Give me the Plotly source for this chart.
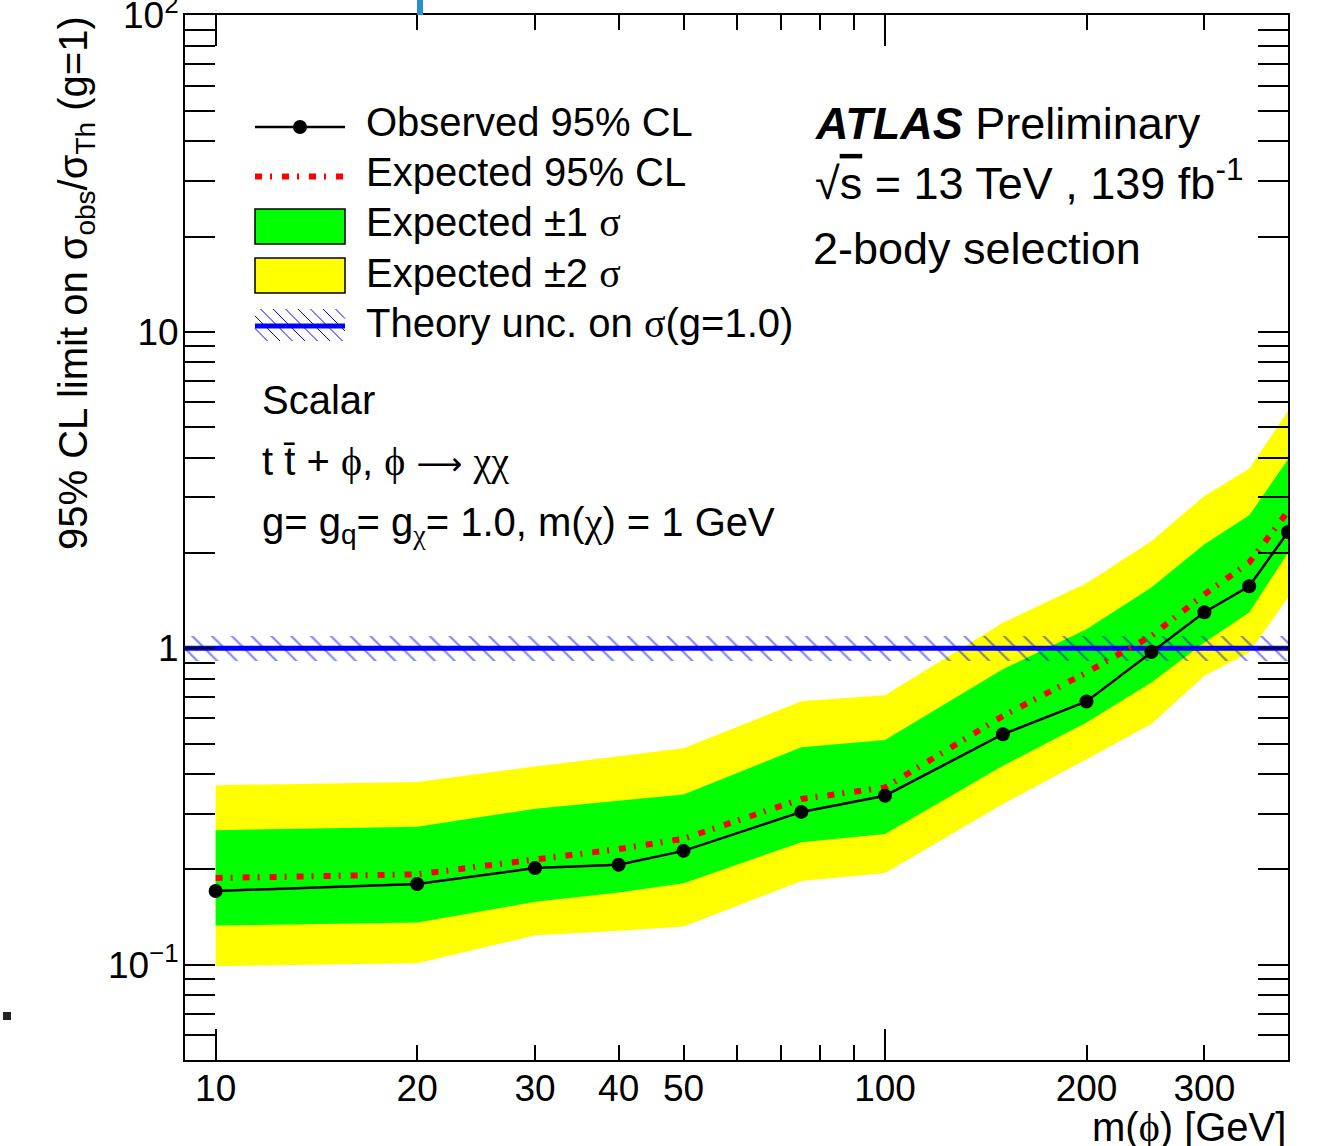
import numpy as np
import plotly.graph_objects as go

# ---------------- data ----------------
mass = [10, 20, 30, 40, 50, 75, 100, 150, 200, 250, 300, 350, 400]
observed = [0.171, 0.180, 0.202, 0.207, 0.229, 0.304, 0.342, 0.535, 0.679, 0.973, 1.30, 1.57, 2.33]
expected = [0.188, 0.193, 0.215, 0.232, 0.250, 0.334, 0.363, 0.611, 0.838, 1.094, 1.48, 1.865, 2.71]
exp_p1 = [0.266, 0.273, 0.311, 0.330, 0.345, 0.487, 0.513, 0.858, 1.148, 1.555, 2.13, 2.63, 3.95]
exp_m1 = [0.133, 0.136, 0.158, 0.169, 0.181, 0.244, 0.259, 0.425, 0.583, 0.779, 1.042, 1.296, 2.005]
exp_p2 = [0.369, 0.378, 0.423, 0.456, 0.483, 0.680, 0.711, 1.205, 1.604, 2.18, 3.03, 3.69, 5.61]
exp_m2 = [0.099, 0.101, 0.124, 0.128, 0.132, 0.184, 0.195, 0.322, 0.446, 0.576, 0.818, 0.969, 1.446]

theory_x = [9, 400]
theory_nominal = [1.0, 1.0]
theory_up = [1.094, 1.094]
theory_down = [0.912, 0.912]

x_tick_vals = [10, 20, 30, 40, 50, 100, 200, 300]
x_tick_text = ["10", "20", "30", "40", "50", "100", "200", "300"]
x_minor_vals = [60, 70, 80, 90, 400]
x_major_long = [10, 100]
y_tick_vals = [0.1, 1, 10, 100]
y_tick_text = ["10<sup>\u22121</sup>", "1", "10", "10<sup>2</sup>"]
y_minor_vals = [0.05, 0.06, 0.07, 0.08, 0.09] + [k / 10 for k in range(2, 10)] + list(range(2, 10)) + [k * 10 for k in range(2, 10)]

# ---------------- layout geometry ----------------
W, H = 1332, 1146
L, R, T, B = 185, 1288, 15, 1060
FONT = "Liberation Sans, Arial, Helvetica, sans-serif"


def px(xp):
    return (xp - L) / (R - L)


def py(yp):
    return (B - yp) / (B - T)


def ser(s):
    return f"<span style=\"font-family:'Liberation Serif'\">{s}</span>"


fig = go.Figure()

# yellow +-2 sigma band
fig.add_trace(go.Scatter(
    x=mass + mass[::-1], y=exp_p2 + exp_m2[::-1], fill="toself",
    fillcolor="#ffff00", line=dict(width=0), mode="lines",
    hoverinfo="skip", showlegend=False))
# green +-1 sigma band
fig.add_trace(go.Scatter(
    x=mass + mass[::-1], y=exp_p1 + exp_m1[::-1], fill="toself",
    fillcolor="#00ff00", line=dict(width=0), mode="lines",
    hoverinfo="skip", showlegend=False))
# theory uncertainty hatch
fig.add_trace(go.Scatter(
    x=theory_x + theory_x[::-1], y=theory_up + theory_down[::-1], fill="toself",
    fillcolor="rgba(0,0,0,0)", line=dict(width=0), mode="lines",
    fillpattern=dict(shape="\\", fgcolor="#0000ff", bgcolor="rgba(0,0,0,0)",
                     size=14, solidity=0.14),
    hoverinfo="skip", showlegend=False))
# theory nominal
fig.add_trace(go.Scatter(
    x=theory_x, y=theory_nominal, mode="lines",
    line=dict(color="#0000ff", width=5), showlegend=False))
# expected
fig.add_trace(go.Scatter(
    x=mass, y=expected, mode="lines",
    line=dict(color="#ff0000", width=6, dash="7px,8px,2px,10px"),
    showlegend=False))
# observed
fig.add_trace(go.Scatter(
    x=mass, y=observed, mode="lines+markers",
    line=dict(color="black", width=2.5),
    marker=dict(color="black", size=14), showlegend=False))
# dummy trace for overlay axis with long ticks
fig.add_trace(go.Scatter(x=[], y=[], xaxis="x2", yaxis="y", showlegend=False))

xrange = [np.log10(9), np.log10(400)]
yrange = [np.log10(0.05), 2.001]

fig.update_layout(
    width=W, height=H,
    margin=dict(l=L, r=W - R, t=T, b=H - B, pad=0, autoexpand=False),
    paper_bgcolor="white", plot_bgcolor="white",
    font=dict(family=FONT, color="black"),
    xaxis=dict(
        type="log", range=xrange, showgrid=False, zeroline=False,
        showline=True, linecolor="black", linewidth=2, mirror="allticks",
        ticks="inside", ticklen=15, tickwidth=1.5, tickcolor="black",
        tickvals=x_tick_vals, ticktext=x_tick_text,
        tickfont=dict(size=37, family=FONT), ticklabelstandoff=-5,
        ticklabeloverflow="allow", automargin=False,
        minor=dict(tickvals=x_minor_vals, ticks="inside", ticklen=15,
                   tickwidth=1.5, tickcolor="black", showgrid=False),
    ),
    xaxis2=dict(
        type="log", range=xrange, overlaying="x", anchor="y", side="bottom",
        showgrid=False, zeroline=False, showline=False, mirror="allticks",
        ticks="inside", ticklen=31, tickwidth=1.5, tickcolor="black",
        tickvals=x_major_long, showticklabels=False, automargin=False,
    ),
    yaxis=dict(
        type="log", range=yrange, showgrid=False, zeroline=False,
        showline=True, linecolor="black", linewidth=2, mirror="allticks",
        ticks="inside", ticklen=30, tickwidth=1.5, tickcolor="black",
        tickvals=y_tick_vals, ticktext=y_tick_text,
        tickfont=dict(size=37, family=FONT), ticklabelstandoff=-3,
        ticklabeloverflow="allow", automargin=False,
        minor=dict(tickvals=y_minor_vals, ticks="inside", ticklen=15,
                   tickwidth=1.5, tickcolor="black", showgrid=False),
    ),
)

shapes = []
ann = []

# ---------------- legend (drawn by hand, ROOT style) ----------------
lx0, lx1 = 255, 345
# observed
shapes.append(dict(type="line", xref="paper", yref="paper",
                   x0=px(lx0), x1=px(lx1), y0=py(127), y1=py(127),
                   line=dict(color="black", width=2.5)))
shapes.append(dict(type="circle", xref="paper", yref="paper",
                   x0=px(293), x1=px(307), y0=py(134), y1=py(120),
                   fillcolor="black", line=dict(color="black", width=0)))
# expected
shapes.append(dict(type="line", xref="paper", yref="paper",
                   x0=px(lx0), x1=px(lx1), y0=py(176.5), y1=py(176.5),
                   line=dict(color="#ff0000", width=6, dash="7px,8px,2px,10px")))
# green box
shapes.append(dict(type="rect", xref="paper", yref="paper",
                   x0=px(lx0), x1=px(lx1), y0=py(244), y1=py(209),
                   fillcolor="#00ff00", line=dict(color="black", width=1.5)))
# yellow box
shapes.append(dict(type="rect", xref="paper", yref="paper",
                   x0=px(lx0), x1=px(lx1), y0=py(293), y1=py(258),
                   fillcolor="#ffff00", line=dict(color="black", width=1.5)))
# hatch box
htop, hbot = 309, 341
hh = hbot - htop
x0s = np.arange(lx0 - hh, lx1 + 1, 12.5)
for x0 in x0s:
    t0 = max(0.0, lx0 - x0)
    t1 = min(hh, lx1 - x0)
    if t1 > t0:
        shapes.append(dict(type="line", xref="paper", yref="paper",
                           x0=px(x0 + t0), y0=py(htop + t0),
                           x1=px(x0 + t1), y1=py(htop + t1),
                           line=dict(color="#0000ff", width=1)))
shapes.append(dict(type="line", xref="paper", yref="paper",
                   x0=px(lx0), x1=px(lx1), y0=py(326), y1=py(326),
                   line=dict(color="#0000ff", width=5)))

leg_text = [
    ("Observed 95% CL", 122),
    ("Expected 95% CL", 172.5),
    ("Expected \u00b11 " + ser("\u03c3"), 223),
    ("Expected \u00b12 " + ser("\u03c3"), 273),
    ("Theory unc. on " + ser("\u03c3") + "(g=1.0)", 323),
]
for txt, yc in leg_text:
    ann.append(dict(text=txt, xref="paper", yref="paper", x=px(364), y=py(yc),
                    xanchor="left", yanchor="middle", showarrow=False,
                    font=dict(size=40, family=FONT, color="black")))

# ---------------- ATLAS labels ----------------
ann.append(dict(text="<b><i>ATLAS</i></b> Preliminary", xref="paper", yref="paper",
                x=px(813), y=py(123), xanchor="left", yanchor="middle", showarrow=False,
                font=dict(size=45, family=FONT)))
ann.append(dict(text="\u221a<span style=\"text-decoration:overline\">s</span> = 13 TeV , 139 fb<sup>-1</sup>",
                xref="paper", yref="paper",
                x=px(813), y=py(180), xanchor="left", yanchor="middle", showarrow=False,
                font=dict(size=45, family=FONT)))
ann.append(dict(text="2-body selection", xref="paper", yref="paper",
                x=px(811), y=py(248), xanchor="left", yanchor="middle", showarrow=False,
                font=dict(size=45, family=FONT)))

# ---------------- model labels ----------------
ann.append(dict(text="Scalar", xref="paper", yref="paper",
                x=px(260), y=py(400), xanchor="left", yanchor="middle", showarrow=False,
                font=dict(size=40, family=FONT)))
arrow = "<span style=\"font-family:'DejaVu Sans';font-size:32px\">\u27f6</span>"
ann.append(dict(text="t t\u0304 + " + ser("\u03d5") + ", " + ser("\u03d5") + " " + arrow + " " + ser("\u03c7\u03c7"),
                xref="paper", yref="paper",
                x=px(260), y=py(462), xanchor="left", yanchor="middle", showarrow=False,
                font=dict(size=40, family=FONT)))
ann.append(dict(text="g= g<sub>q</sub>= g<sub>" + ser("\u03c7") + "</sub>= 1.0, m(" + ser("\u03c7") + ") = 1 GeV",
                xref="paper", yref="paper",
                x=px(260), y=py(525), xanchor="left", yanchor="middle", showarrow=False,
                font=dict(size=40, family=FONT)))

# ---------------- axis titles ----------------
ann.append(dict(text="m(" + ser("\u03d5") + ") [GeV]", xref="paper", yref="paper",
                x=1.0, y=py(1127), xanchor="right", yanchor="middle", showarrow=False,
                font=dict(size=40, family=FONT)))
ann.append(dict(text="95% CL limit on \u03c3<sub>obs</sub>/\u03c3<sub>Th</sub> (g=1)",
                xref="paper", yref="paper", textangle=-90,
                x=px(76), y=py(14), xanchor="center", yanchor="top", showarrow=False,
                font=dict(size=40, family=FONT)))

# small artefacts present in the reference image
shapes.append(dict(type="rect", xref="paper", yref="paper",
                   x0=px(417), x1=px(423), y0=py(15), y1=py(0),
                   fillcolor="#2a8fd0", line=dict(width=0)))
shapes.append(dict(type="rect", xref="paper", yref="paper",
                   x0=px(3), x1=px(11), y0=py(1020), y1=py(1012),
                   fillcolor="#222222", line=dict(width=0)))

fig.update_layout(shapes=shapes, annotations=ann)

fig.write_html("out.html", config={"displayModeBar": False},
               post_script="document.body.style.margin='0';document.body.style.overflow='hidden';")
